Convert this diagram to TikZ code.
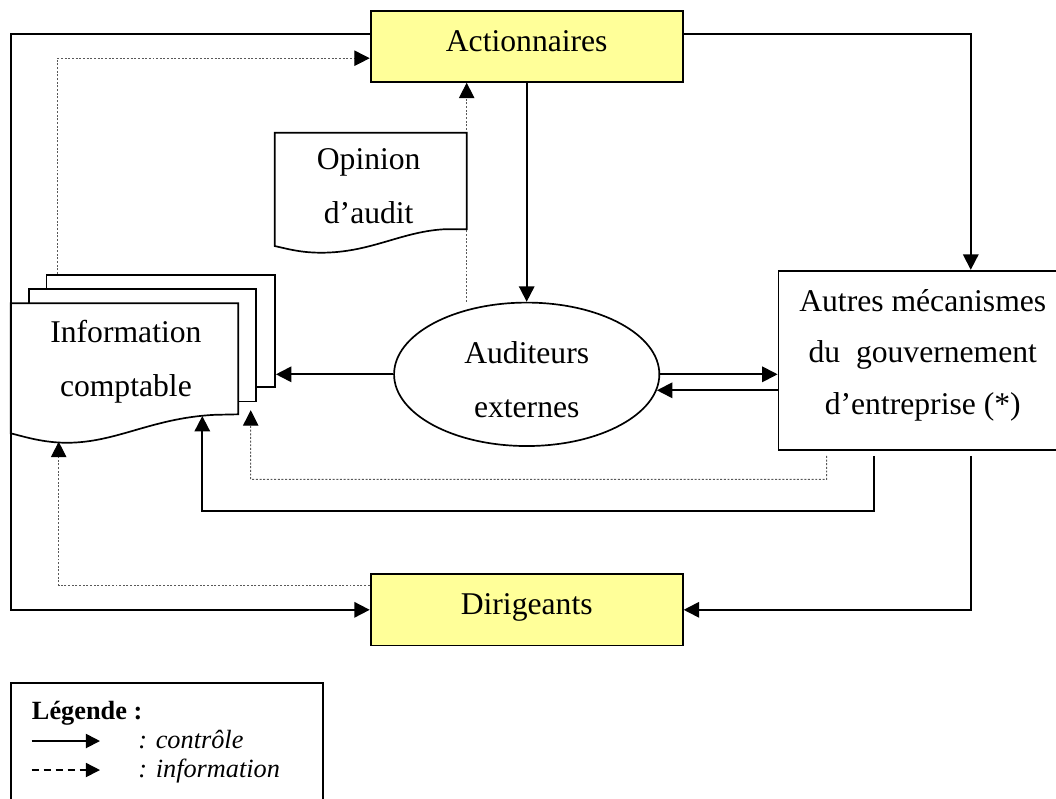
\documentclass[tikz,border=0pt]{standalone}
\usepackage{fontspec}
\setmainfont{Liberation Serif}
\usetikzlibrary{arrows.meta,shapes.geometric}
\definecolor{jaune}{HTML}{FFFF99}
\tikzset{
  ctrl/.style={line width=1.3pt},
  infoline/.style={line width=0.7pt, black!65, dash pattern=on 1.4pt off 1.2pt,
    -{Triangle[length=11pt,width=11pt,color=black]}},
  acteur/.style={draw, line width=1.3pt, fill=jaune, minimum width=7.8cm, minimum height=1.78cm,
    font=\fontsize{22.5}{38.4}\selectfont, text height=15.4pt, text depth=8.1pt},
  page/.style={draw, line width=1.2pt, fill=white, inner sep=0pt},
  gros/.style={font=\fontsize{22.5}{38.4}\selectfont, align=center, inner sep=0pt},
  legende/.style={font=\fontsize{18.7}{22}\selectfont, inner sep=0pt, anchor=base west}
}
\begin{document}
\begin{tikzpicture}[x=0.025cm, y=-0.025cm, >={Triangle[length=11pt,width=11pt]}]
\useasboundingbox (0,0) rectangle (1056,798);
\node[acteur] (act) at (526.7,46.2) {Actionnaires};
\node[acteur] (dir) at (526.7,609.8) {Dirigeants};
\node[ellipse, draw, line width=1.2pt, minimum width=6.63cm, minimum height=3.585cm, gros,
  text height=61.2pt, text depth=0pt] (aud) at (526.7,374.3) {Auditeurs\\externes};
\node[draw, line width=1.3pt, minimum width=7.21cm, minimum height=4.48cm, gros,
  font=\fontsize{22.5}{36.6}\selectfont, text depth=12pt] (aut) at (922.75,360.35)
  {Autres mécanismes\\du~ gouvernement\\d’entreprise (*)};
\coordinate (oa) at ([xshift=-1.5cm]act.south);
\draw[infoline] (oa |- aud.north) -- (oa);
% documents
\node[page, minimum width=5.71cm, minimum height=2.8cm] (pg3) at (160.85,330.7) {};
\node[page, minimum width=5.66cm, minimum height=2.81cm] (pg2) at (142.5,345.15) {};
\draw[line width=1.2pt, fill=white] (238.3,303.3) -- (238.3,414.3) -- (215,414.8)
  .. controls (150,418) and (115,444) .. (63,442.7)
  .. controls (40,442) and (22,436) .. (10.7,433.3) -- (10.7,303.3) -- cycle;
\node[gros] (info) at (125.9,361.5) {Information\\comptable};
\draw[line width=1.2pt, fill=white] (274.7,132.7) -- (466.7,132.7) -- (466.7,229.3) -- (443.3,229.3)
  .. controls (400,232) and (370,253) .. (320,252.7)
  .. controls (300,252.5) and (288,249) .. (274.7,246) -- cycle;
\node[gros] (opi) at (368.7,186.3) {Opinion\\d’audit};
\coordinate (ic) at (202.3,416);
\coordinate (idot) at (58.7,441.7);
% controle
\draw[ctrl,->] ([yshift=.3cm]act.west) -| (10.7,609.8) -- (dir.west);
\draw[ctrl,->] ([yshift=.3cm]act.east) -| ([xshift=1.2cm]aut.north);
\draw[ctrl,->] (act) -- (aud);
\draw[ctrl,->] (aud) -- (aud -| pg3.east);
\draw[ctrl,->] (aud.east) -- (aud.east -| aut.west);
\draw[ctrl,->] (aud.-7 -| aut.west) -- (aud.-7);
\draw[ctrl,->] ([xshift=1.2cm,yshift=-.125cm]aut.south) |- (dir.east);
\draw[ctrl,->] ([xshift=-1.22cm,yshift=-.125cm]aut.south) |- (202.3,511) -- (ic);
% information
\draw[infoline] ([xshift=-2.4cm,yshift=-.125cm]aut.south) |- (250.7,479.3)
  -- ([xshift=2.705cm,yshift=-.2cm]pg2.south);
\draw[infoline] ([yshift=.6cm]dir.west) -| (idot);
\draw[infoline] ([xshift=.29cm]pg3.north west) |- ([yshift=-.3cm]act.west);
% legende
\draw[line width=1.2pt] (10.7,805) |- (322.7,682.7) -- (322.7,805);
\node[legende] (leg) at (31.7,719) {\textbf{Légende :}};
\draw[ctrl,-{Triangle[length=10pt,width=10pt]}] (31.7,741) -- (100,741);
\node[legende] (lctrl) at (138,748) {\textit{: contrôle}};
\draw[line width=1.1pt, dash pattern=on 5pt off 3.5pt, -{Triangle[length=10pt,width=10pt]}] (31.7,770) -- (100,770);
\node[legende] (linfo) at (138,777) {\textit{: information}};
\end{tikzpicture}
\end{document}
